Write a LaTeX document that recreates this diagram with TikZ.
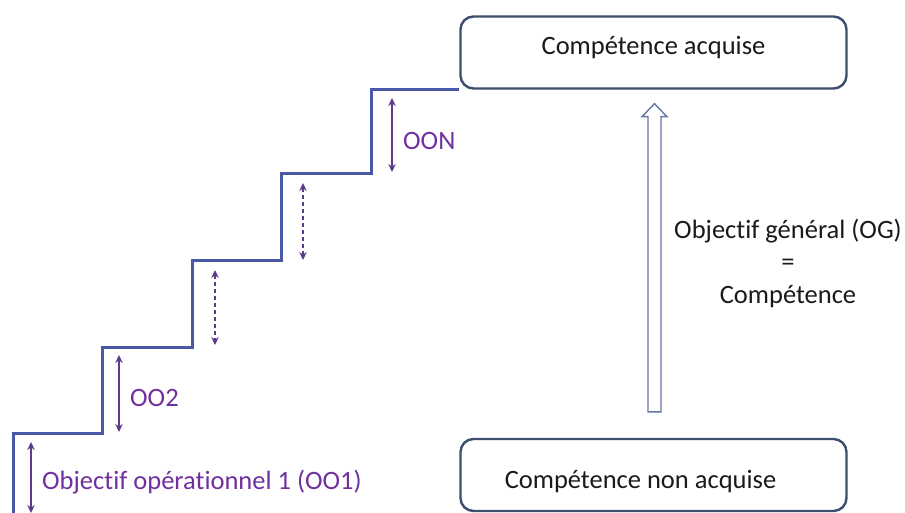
\documentclass[tikz,border=0pt]{standalone}
\usepackage{fontspec}
\setmainfont{Carlito}[Ligatures={NoCommon}]
\usetikzlibrary{arrows.meta,calc}
\definecolor{stair}{HTML}{4A58A8}
\definecolor{boxline}{HTML}{3E4E6E}
\definecolor{objpurple}{HTML}{7030A0}
\definecolor{spanline}{HTML}{5E3A8C}
\definecolor{ogline}{HTML}{6676A6}
\definecolor{ink}{HTML}{1A1A1A}

\begin{document}
\begin{tikzpicture}[x=1pt,y=-1pt,
  every node/.style={font=\fontsize{26.5}{32.5}\selectfont, text=ink},
  stagebox/.style={draw=boxline, line width=2.4pt, rounded corners=13pt,
    minimum width=386pt, minimum height=72pt, inner sep=0pt},
  stairline/.style={draw=stair, line width=3pt},
  stepspan/.style={draw=spanline, line width=1.4pt,
    {Stealth[length=8pt,width=7.5pt]}-{Stealth[length=8pt,width=7.5pt]}},
  pendingspan/.style={stepspan, dash pattern=on 4pt off 3pt},
  steplabel/.style={text=objpurple, anchor=base west, inner sep=0pt},
  ogarrow/.style={draw=ogline, line width=1.4pt, fill=white, line join=miter},
]
\useasboundingbox (0,0) rectangle (905,513);
\fill[white] (0,0) rectangle (905,513);

% start and end states
\node[stagebox, text height=18pt, text depth=13pt] (acq) at (653.5,52.5) {Compétence acquise};
\node[stagebox, text height=26pt, text depth=0pt] (nonacq) at (653.5,475) {Compétence non acquise\hspace*{26pt}};

% staircase corners
\coordinate (c0) at (13,516);
\coordinate (c1) at (102,433);
\coordinate (c2) at (192,347);
\coordinate (c3) at (281,260);
\coordinate (c4) at (371,174);

\draw[stairline] (c0) |- (c1) |- (c2) |- (c3) |- (c4) |- (acq.south west);

% height of each step
\coordinate (a1t) at (31,442);   \coordinate (a1b) at (31,513);
\coordinate (a2t) at (119,355);  \coordinate (a2b) at (119,432);
\coordinate (a3t) at (215,270);  \coordinate (a3b) at (215,345);
\coordinate (a4t) at (303,183);  \coordinate (a4b) at (303,260);
\coordinate (a5t) at (392,98);   \coordinate (a5b) at (392,172);

\draw[stepspan] (a1t) -- (a1b);
\draw[stepspan] (a2t) -- (a2b);
\draw[pendingspan] (a3t) -- (a3b);
\draw[pendingspan] (a4t) -- (a4b);
\draw[stepspan] (a5t) -- (a5b);

\node[steplabel] (oo1) at (42,489) {Objectif opérationnel 1 (OO1)};
\node[steplabel] (oo2) at (130,406) {OO2};
\node[steplabel] (oon) at (403,150) {OON};

% hollow arrow from the start state to the end state
\coordinate (ogbase) at ($(nonacq.north)+(1,-26)$);
\coordinate (ogtip) at ($(acq.south)+(1,14)$);
\draw[ogarrow] ($(ogbase)+(-6.5,0)$) -- ($(ogtip)+(-6.5,13)$) -- ($(ogtip)+(-12.5,13)$)
  -- (ogtip) -- ($(ogtip)+(12.5,13)$) -- ($(ogtip)+(6.5,13)$) -- ($(ogbase)+(6.5,0)$) -- cycle;

\node[align=center] (og) at (788,263) {Objectif général (OG)\\=\\Compétence};
\end{tikzpicture}
\end{document}
